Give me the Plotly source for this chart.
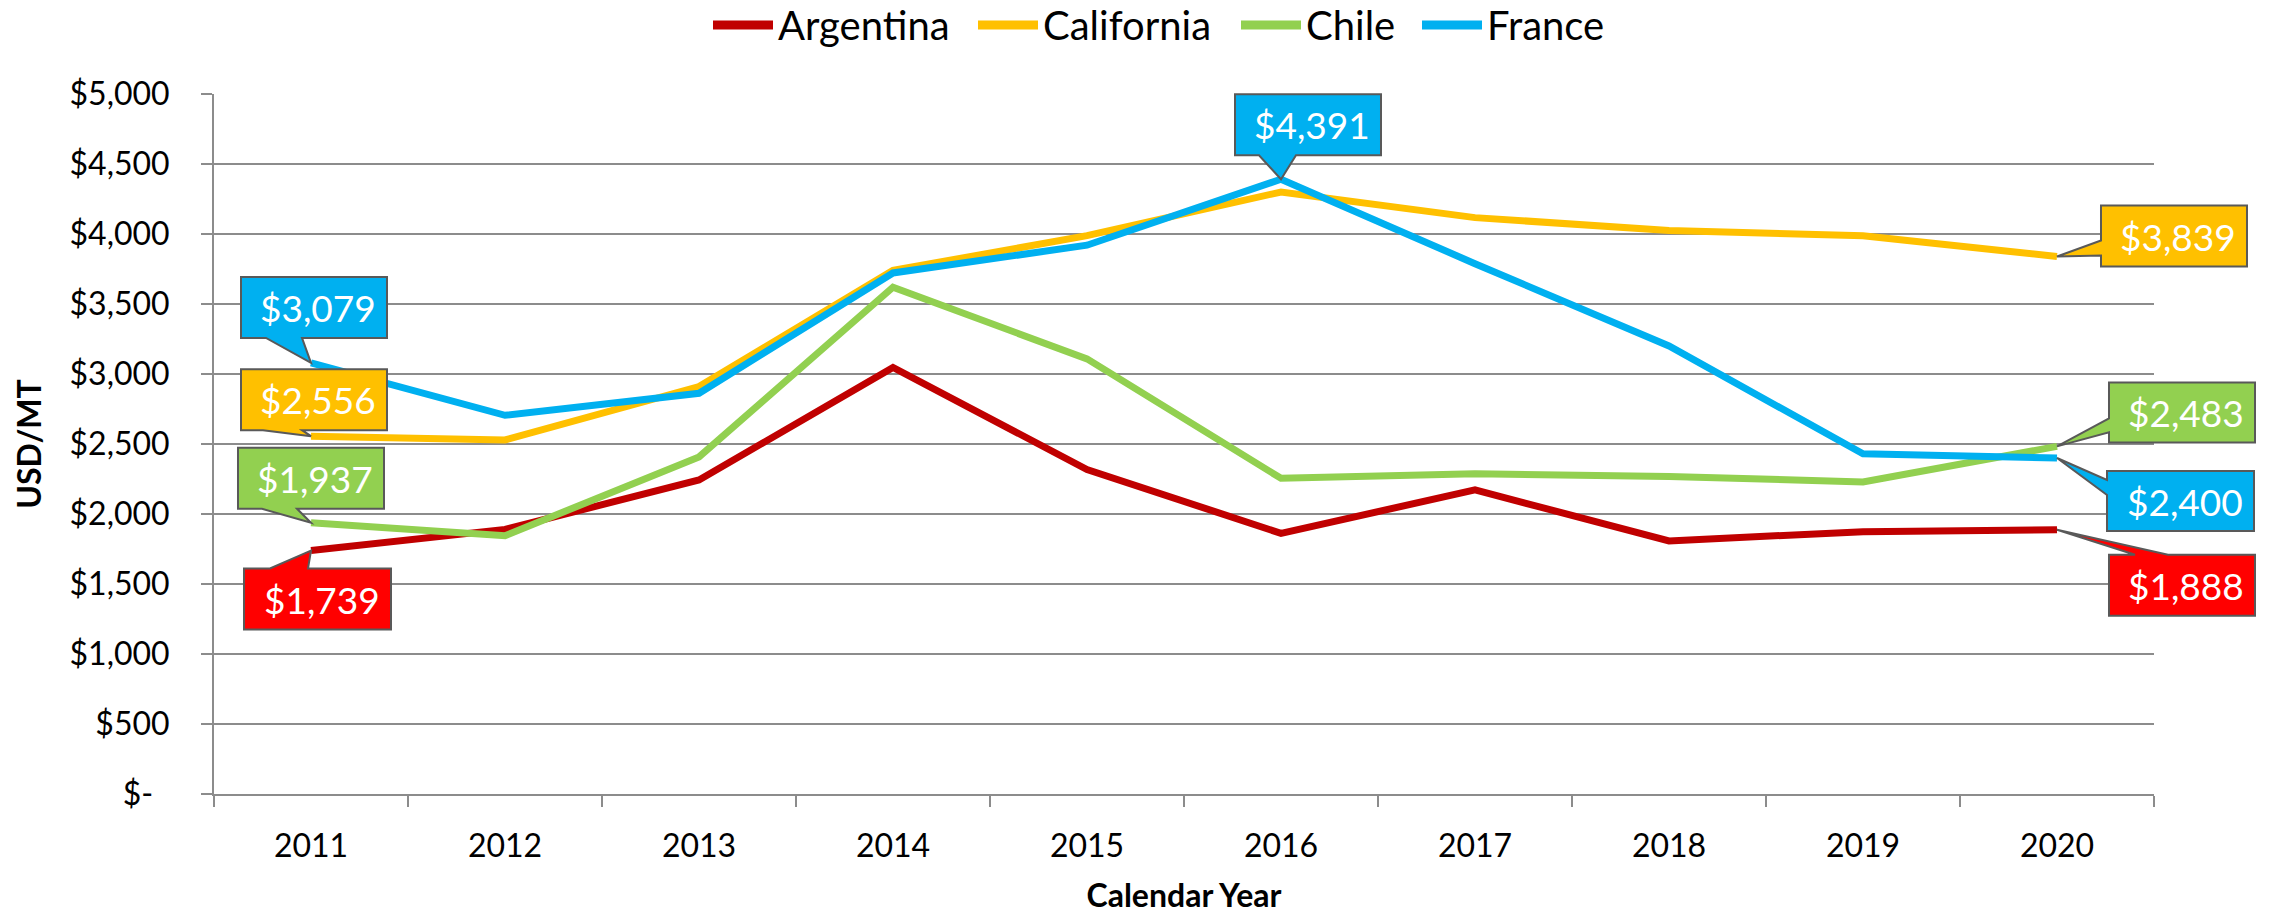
import plotly.graph_objects as go

# ---------------- data ----------------
years = ["2011", "2012", "2013", "2014", "2015", "2016", "2017", "2018", "2019", "2020"]
argentina = [1739, 1890, 2243, 3047, 2318, 1862, 2172, 1808, 1874, 1888]
california = [2556, 2529, 2910, 3740, 3988, 4300, 4117, 4025, 3988, 3839]
chile = [1937, 1845, 2408, 3620, 3108, 2255, 2287, 2268, 2229, 2483]
france = [3079, 2705, 2862, 3722, 3920, 4391, 3788, 3200, 2430, 2400]

y_tick_vals = [0, 500, 1000, 1500, 2000, 2500, 3000, 3500, 4000, 4500, 5000]
y_tick_text = ["$-\u00a0\u00a0", "$500", "$1,000", "$1,500", "$2,000", "$2,500",
               "$3,000", "$3,500", "$4,000", "$4,500", "$5,000"]

series = {
    "Argentina": (argentina, "#C00000"),
    "California": (california, "#FFC000"),
    "Chile": (chile, "#92D050"),
    "France": (france, "#00B0F0"),
}

FONT = "Lato"
W, H = 2272, 914
M = dict(l=214, r=118, t=94, b=120)
X_RANGE = [-0.5, len(years) - 0.5]
Y_RANGE = [0, 5000]
PLOT_W = W - M["l"] - M["r"]
PLOT_H = H - M["t"] - M["b"]


def px_to_paper(x_px, y_px):
    """figure pixel (from top-left) -> paper coords"""
    return (x_px - M["l"]) / PLOT_W, (H - M["b"] - y_px) / PLOT_H


def to_paper(idx, val, dx=0.0, dy=0.0):
    """data point (category index, value) + screen pixel offset -> paper coords"""
    px = (idx - X_RANGE[0]) / (X_RANGE[1] - X_RANGE[0]) + dx / PLOT_W
    py = (val - Y_RANGE[0]) / (Y_RANGE[1] - Y_RANGE[0]) - dy / PLOT_H
    return px, py


fig = go.Figure()
for name, (vals, col) in series.items():
    fig.add_trace(go.Scatter(
        x=years, y=vals, name=name, mode="lines",
        line=dict(color=col, width=7),
        hoverinfo="skip", showlegend=False,
    ))

# ---------------- legend (drawn as line swatch + text, Excel style) ----------------
legend_left_px = [713, 978, 1241, 1422]   # swatch start for each entry
LEGEND_Y_PX = 25
SWATCH_LEN = 60
for (name, (vals, col)), lx in zip(series.items(), legend_left_px):
    x0, y0 = px_to_paper(lx, LEGEND_Y_PX)
    x1, _ = px_to_paper(lx + SWATCH_LEN, LEGEND_Y_PX)
    fig.add_shape(type="line", xref="paper", yref="paper",
                  x0=x0, x1=x1, y0=y0, y1=y0,
                  line=dict(color=col, width=9), layer="above")
    tx, _ = px_to_paper(lx + SWATCH_LEN + 3, LEGEND_Y_PX)
    fig.add_annotation(x=tx, y=y0, xref="paper", yref="paper", text=name,
                       showarrow=False, xanchor="left", yanchor="middle",
                       font=dict(family=FONT, size=40, color="black"))

# ---------------- callouts (pixel geometry relative to data point) ----------------
# (series, index, fill, box x0, x1, y0, y1 (screen px, y down), wedge side, wedge a, wedge b)
callouts = [
    ("France", 0, "#00B0F0", -70, 76, -86, -25, "bottom", -45, -9),
    ("California", 0, "#FFC000", -70, 76, -67, -6, "bottom", -48, -9),
    ("Chile", 0, "#92D050", -73, 73, -75, -14, "bottom", -49, -14),
    ("Argentina", 0, "#FF0000", -67, 80, 18, 79, "top", -41, -3),
    ("France", 5, "#00B0F0", -46, 100, -85, -24, "bottom", -22, 15),
    ("California", 9, "#FFC000", 44, 190, -51, 10, "left", -16, -1),
    ("Chile", 9, "#92D050", 52, 198, -64, -4, "left", -28, -14),
    ("France", 9, "#00B0F0", 50, 197, 13, 73, "left", 22, 37),
    ("Argentina", 9, "#FF0000", 52, 198, 25, 86, "top", 78, 111),
]


def callout_path(idx, val, x0, x1, y0, y1, side, a, b):
    if side == "bottom":
        pts = [(x0, y0), (x1, y0), (x1, y1), (b, y1), (0, 0), (a, y1), (x0, y1)]
    elif side == "top":
        pts = [(x0, y0), (a, y0), (0, 0), (b, y0), (x1, y0), (x1, y1), (x0, y1)]
    else:  # left
        pts = [(x0, y0), (x1, y0), (x1, y1), (x0, y1), (x0, b), (0, 0), (x0, a)]
    coords = [to_paper(idx, val, dx, dy) for dx, dy in pts]
    return "M " + " L ".join(f"{x:.6f},{y:.6f}" for x, y in coords) + " Z"


for name, idx, fill, x0, x1, y0, y1, side, a, b in callouts:
    vals = series[name][0]
    fig.add_shape(
        type="path", xref="paper", yref="paper",
        path=callout_path(idx, vals[idx], x0, x1, y0, y1, side, a, b),
        fillcolor=fill, line=dict(color="#595959", width=2),
        layer="above",
    )
    tx, ty = to_paper(idx, vals[idx], (x0 + x1) / 2 + 4, (y0 + y1) / 2)
    fig.add_annotation(
        x=tx, y=ty, xref="paper", yref="paper",
        text=f"${vals[idx]:,}", showarrow=False,
        xanchor="center", yanchor="middle",
        font=dict(family=FONT, size=37, color="white"),
    )

fig.update_layout(
    width=W, height=H,
    margin=M,
    paper_bgcolor="white", plot_bgcolor="white",
    font=dict(family=FONT, size=32, color="black"),
    showlegend=False,
    xaxis=dict(
        type="category", categoryorder="array", categoryarray=years,
        range=X_RANGE, automargin=False,
        showgrid=False, showline=True, linecolor="#8C8C8C", linewidth=2,
        ticks="outside", tickson="boundaries", ticklen=11, tickcolor="#8C8C8C", tickwidth=1.5,
        tickfont=dict(family=FONT, size=32, color="black"),
        ticklabelstandoff=23,
        title=dict(text="<b>Calendar Year</b>", font=dict(family=FONT, size=32, color="black"), standoff=22),
        zeroline=False,
    ),
    yaxis=dict(
        range=Y_RANGE, automargin=False,
        tickvals=y_tick_vals, ticktext=y_tick_text,
        showgrid=True, gridcolor="#8C8C8C", gridwidth=1.5,
        showline=True, linecolor="#8C8C8C", linewidth=2,
        ticks="outside", ticklen=11, tickcolor="#8C8C8C", tickwidth=1.5,
        tickfont=dict(family=FONT, size=32, color="black"),
        ticklabelstandoff=25,
        title=dict(text="<b>USD/MT</b>", font=dict(family=FONT, size=32, color="black"), standoff=18),
        zeroline=False,
    ),
)

# remove the browser's default page margin so the figure sits at the window origin
fig.write_html("out.html", config={"displayModeBar": False},
               post_script="document.body.style.margin='0';")
